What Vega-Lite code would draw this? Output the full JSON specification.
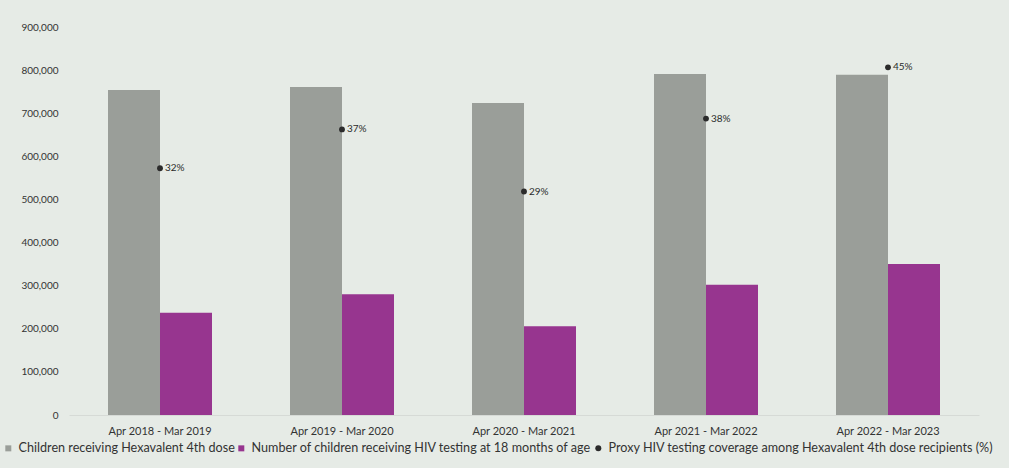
{
  "$schema": "https://vega.github.io/schema/vega-lite/v6.json",
  "width": 910,
  "height": 388,
  "autosize": {"type": "none"},
  "padding": {"left": 69, "top": 27, "right": 30, "bottom": 53},
  "background": "#e6ebe6",
  "config": {
    "view": {"stroke": null},
    "font": "Lato",
    "axis": {"labelColor": "#333333", "labelFont": "Lato", "grid": false, "ticks": false, "title": null}
  },
  "data": {
    "values": [
      {"period": "Apr 2018 - Mar 2019", "series": "Children receiving Hexavalent 4th dose", "value": 754000, "label": ""},
      {"period": "Apr 2018 - Mar 2019", "series": "Number of children receiving HIV testing at 18 months of age", "value": 237000, "label": ""},
      {"period": "Apr 2018 - Mar 2019", "series": "Proxy HIV testing coverage among Hexavalent 4th dose recipients (%)", "value": 31.8, "label": "32%"},
      {"period": "Apr 2019 - Mar 2020", "series": "Children receiving Hexavalent 4th dose", "value": 761000, "label": ""},
      {"period": "Apr 2019 - Mar 2020", "series": "Number of children receiving HIV testing at 18 months of age", "value": 280000, "label": ""},
      {"period": "Apr 2019 - Mar 2020", "series": "Proxy HIV testing coverage among Hexavalent 4th dose recipients (%)", "value": 36.8, "label": "37%"},
      {"period": "Apr 2020 - Mar 2021", "series": "Children receiving Hexavalent 4th dose", "value": 724000, "label": ""},
      {"period": "Apr 2020 - Mar 2021", "series": "Number of children receiving HIV testing at 18 months of age", "value": 206000, "label": ""},
      {"period": "Apr 2020 - Mar 2021", "series": "Proxy HIV testing coverage among Hexavalent 4th dose recipients (%)", "value": 28.8, "label": "29%"},
      {"period": "Apr 2021 - Mar 2022", "series": "Children receiving Hexavalent 4th dose", "value": 791000, "label": ""},
      {"period": "Apr 2021 - Mar 2022", "series": "Number of children receiving HIV testing at 18 months of age", "value": 302000, "label": ""},
      {"period": "Apr 2021 - Mar 2022", "series": "Proxy HIV testing coverage among Hexavalent 4th dose recipients (%)", "value": 38.2, "label": "38%"},
      {"period": "Apr 2022 - Mar 2023", "series": "Children receiving Hexavalent 4th dose", "value": 789000, "label": ""},
      {"period": "Apr 2022 - Mar 2023", "series": "Number of children receiving HIV testing at 18 months of age", "value": 350000, "label": ""},
      {"period": "Apr 2022 - Mar 2023", "series": "Proxy HIV testing coverage among Hexavalent 4th dose recipients (%)", "value": 44.8, "label": "45%"}
    ]
  },
  "encoding": {
    "x": {
      "field": "period",
      "type": "nominal",
      "sort": null,
      "scale": {"paddingInner": 0.4286, "paddingOuter": 0.2143},
      "axis": {"labelAngle": 0, "labelFontSize": 11, "labelPadding": 10, "domain": true, "domainColor": "#d6dad6", "domainWidth": 1}
    }
  },
  "layer": [
    {
      "transform": [{"filter": "datum.series !== 'Proxy HIV testing coverage among Hexavalent 4th dose recipients (%)'"}],
      "mark": {"type": "bar"},
      "encoding": {
        "xOffset": {"field": "series", "type": "nominal", "sort": null},
        "y": {
          "field": "value",
          "type": "quantitative",
          "scale": {"domain": [0, 900000], "nice": false},
          "axis": {"values": [0, 100000, 200000, 300000, 400000, 500000, 600000, 700000, 800000, 900000], "labelExpr": "format(datum.value, ',')", "labelFontSize": 10, "labelPadding": 11, "domain": false}
        },
        "color": {
          "field": "series",
          "type": "nominal",
          "scale": {
            "domain": ["Children receiving Hexavalent 4th dose", "Number of children receiving HIV testing at 18 months of age", "Proxy HIV testing coverage among Hexavalent 4th dose recipients (%)"],
            "range": ["#9a9e99", "#97358f", "#2b2b2b"]
          },
          "legend": {
            "title": null,
            "orient": "none",
            "legendX": -67,
            "legendY": 415,
            "direction": "horizontal",
            "columns": 3,
            "labelFontSize": 12.6,
            "labelColor": "#333333",
            "labelFont": "Lato",
            "labelLimit": 600,
            "symbolSize": 36,
            "symbolOffset": 0,
            "labelOffset": 4,
            "columnPadding": 0,
            "padding": 0
          }
        }
      }
    },
    {
      "transform": [{"filter": "datum.series === 'Proxy HIV testing coverage among Hexavalent 4th dose recipients (%)'"}],
      "mark": {"type": "point", "filled": true, "opacity": 1, "size": 34},
      "encoding": {
        "y": {"field": "value", "type": "quantitative", "scale": {"domain": [0, 50], "nice": false}, "axis": null},
        "color": {"field": "series", "type": "nominal"},
        "shape": {
          "field": "series",
          "type": "nominal",
          "scale": {
            "domain": ["Children receiving Hexavalent 4th dose", "Number of children receiving HIV testing at 18 months of age", "Proxy HIV testing coverage among Hexavalent 4th dose recipients (%)"],
            "range": ["square", "square", "circle"]
          }
        }
      }
    },
    {
      "transform": [{"filter": "datum.series === 'Proxy HIV testing coverage among Hexavalent 4th dose recipients (%)'"}],
      "mark": {"type": "text", "align": "left", "dx": 5, "fontSize": 10, "color": "#2b2b2b", "font": "Lato"},
      "encoding": {
        "y": {"field": "value", "type": "quantitative", "scale": {"domain": [0, 50], "nice": false}, "axis": null},
        "text": {"field": "label"}
      }
    }
  ],
  "resolve": {"scale": {"y": "independent"}}
}
